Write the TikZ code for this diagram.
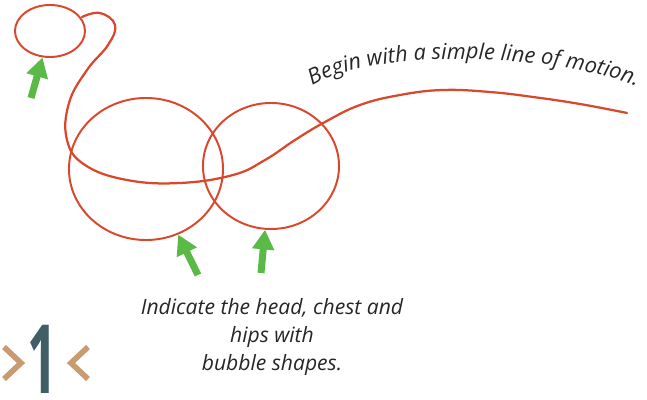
\documentclass[tikz,border=0pt]{standalone}
\usepackage{fontspec}
\usepackage{tikz}
\usetikzlibrary{arrows.meta,shapes.geometric,decorations.text}
\newfontfamily\notefont{Open Sans}
\definecolor{sketchred}{HTML}{D9482C}
\definecolor{pointgreen}{HTML}{5BB947}
\definecolor{stepslate}{HTML}{3F5E66}
\definecolor{steptan}{HTML}{C99B70}
\tikzset{
  bubble/.style={
    ellipse,
    draw=sketchred,
    line width=1.4pt,
    inner sep=0pt
  },
  pointer/.style={
    -{Triangle[length=14pt,width=15pt]},
    line width=5pt,
    draw=pointgreen
  },
  motion/.style={
    draw=sketchred,
    line width=1.6pt,
    line cap=round
  },
  note/.style={
    font=\notefont\itshape\fontsize{15}{20}\selectfont,
    align=center,
    text=black!85
  },
  chevron/.style={
    draw=steptan,
    line width=4pt
  }
}

\begin{document}
\begin{tikzpicture}[x=0.025cm, y=-0.025cm]
\useasboundingbox (0,0) rectangle (647,400);

% bubble shapes
\node[bubble, minimum width=1.75cm, minimum height=1.3cm] (head) at (50,31) {};
\node[bubble, minimum width=3.85cm, minimum height=3.55cm] (chest) at (146,169) {};
\node[bubble, minimum width=3.4cm, minimum height=3.15cm] (hips) at (271,166) {};

% line of motion
\draw[motion] plot[smooth, tension=0.7] coordinates {
  (82,17) (100,13) (115,25) (108,45) (87,70) (69,103) (67,140)
  (85,165) (127,180) (180,183) (233,175) (265,160) (295,140)
  (325,122) (360,105) (400,95) (443,90) (490,92) (533,97)
  (580,104) (627,113)};

% green pointers
\coordinate (headtail) at (31,98);
\coordinate (chesttail) at (198,275);
\coordinate (hipstail) at (261,273);
\draw[pointer] (headtail) -- (head);
\draw[pointer] (chesttail) -- (chest);
\draw[pointer] (hipstail) -- (hips);

% captions
\path[decorate, decoration={text along path, text align=center,
  text={|\notefont\itshape\fontsize{15.5}{18}\selectfont\color{black!85}|Begin with a simple line of motion.}}]
  (312,86) .. controls (370,50) and (540,50) .. (637,86);
\node[note] (bubbles) at (272,337) {Indicate the head, chest and\\hips with\\bubble shapes.};

% step marker
\node[text=stepslate, font=\notefont\bfseries\fontsize{68}{68}\selectfont, inner sep=0pt, xscale=0.55] (stepnum) at (43,359) {1};
\draw[chevron] (4,347) -- (21,363) -- (4,379);
\draw[chevron] (88,347) -- (71,363) -- (88,379);
\end{tikzpicture}
\end{document}
